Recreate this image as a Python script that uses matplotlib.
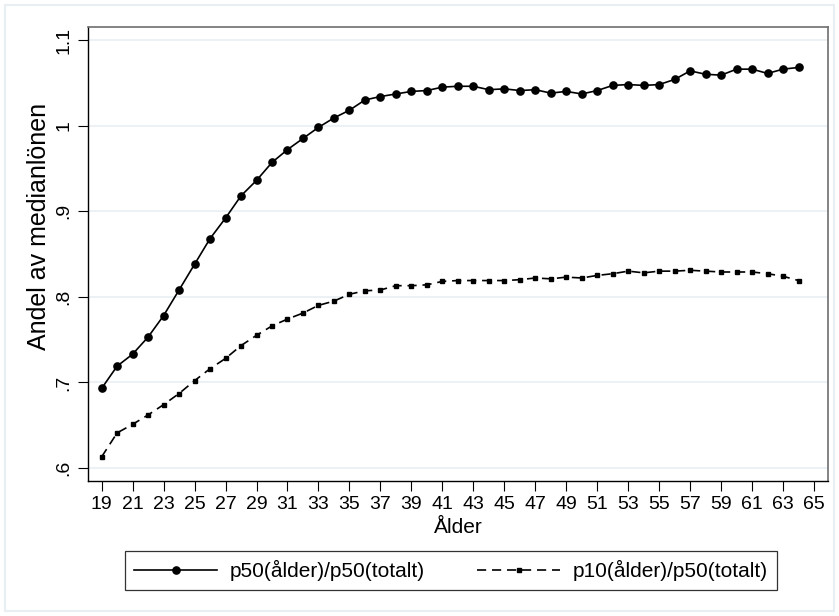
import matplotlib
matplotlib.use("Agg")
import matplotlib.pyplot as plt
from matplotlib.patches import Rectangle

plt.rcParams["font.family"] = ["Liberation Sans", "DejaVu Sans"]

# Data
ages = list(range(19, 65))
p50_ratio = [
    0.693, 0.719, 0.733, 0.753, 0.778, 0.808, 0.838, 0.868, 0.892, 0.918,
    0.936, 0.957, 0.972, 0.985, 0.998, 1.009, 1.018, 1.030, 1.034, 1.037,
    1.040, 1.041, 1.045, 1.046, 1.046, 1.042, 1.043, 1.041, 1.042, 1.038,
    1.040, 1.037, 1.041, 1.047, 1.048, 1.047, 1.048, 1.054, 1.064, 1.060,
    1.059, 1.066, 1.066, 1.061, 1.066, 1.068,
]
p10_ratio = [
    0.613, 0.641, 0.651, 0.662, 0.674, 0.687, 0.702, 0.716, 0.728, 0.743,
    0.755, 0.766, 0.774, 0.781, 0.790, 0.795, 0.803, 0.807, 0.808, 0.813,
    0.813, 0.814, 0.818, 0.819, 0.819, 0.819, 0.819, 0.820, 0.822, 0.821,
    0.823, 0.822, 0.825, 0.827, 0.830, 0.828, 0.830, 0.830, 0.831, 0.830,
    0.829, 0.829, 0.829, 0.827, 0.824, 0.819,
]
x_ticks = list(range(19, 66, 2))
y_ticks = [0.6, 0.7, 0.8, 0.9, 1.0, 1.1]
y_tick_labels = [".6", ".7", ".8", ".9", "1", "1.1"]

W, H = 839, 616
fig = plt.figure(figsize=(W / 100, H / 100), dpi=100)

# faint outer frame like Stata's graph region
fig.patches.append(Rectangle((5 / W, 5 / H), 829 / W, 606 / H, transform=fig.transFigure,
                             fill=False, edgecolor="#e8eff2", linewidth=1.5))

ax = fig.add_axes([88 / W, (H - 481) / H, 740 / W, (481 - 26.7) / H])

grid_color = "#e9f0f3"
for y in y_ticks:
    ax.axhline(y, color=grid_color, linewidth=1.3, zorder=0)

ax.plot(ages, p50_ratio, color="black", linewidth=1.2, marker="o", markersize=5.2,
        label="p50(ålder)/p50(totalt)")
ax.plot(ages, p10_ratio, color="black", linewidth=1.2, linestyle=(0, (5.5, 3.5)),
        marker="s", markersize=2.4, label="p10(ålder)/p50(totalt)")

ax.set_xlim(18.12, 65.9)
ax.set_ylim(0.5848, 1.1156)
ax.set_xticks(x_ticks)
ax.set_yticks(y_ticks)
ax.set_yticklabels(y_tick_labels, rotation=90, va="center")
ax.tick_params(axis="both", labelsize=14, length=7, width=0.8, color="black", pad=4)

for side in ["top", "right"]:
    ax.spines[side].set_color("#6e6e6e")
    ax.spines[side].set_linewidth(1.2)
for side in ["left", "bottom"]:
    ax.spines[side].set_color("black")
    ax.spines[side].set_linewidth(1.0)

ax.set_xlabel("Ålder", fontsize=15, va="baseline")
ax.xaxis.set_label_coords(0.5, -0.1145)
ax.set_ylabel("Andel av medianlönen", fontsize=18, va="center")
ax.yaxis.set_label_coords(-0.066, 0.56)

leg = fig.legend(loc="center", bbox_to_anchor=(451 / W, 1 - 570.5 / H),
                 ncol=2, fontsize=15, frameon=True, fancybox=False,
                 handlelength=4.0, handletextpad=0.6, columnspacing=2.5,
                 borderpad=0.45, borderaxespad=0)
leg.get_frame().set_edgecolor("black")
leg.get_frame().set_linewidth(0.9)

fig.savefig("out.png", dpi=100)
